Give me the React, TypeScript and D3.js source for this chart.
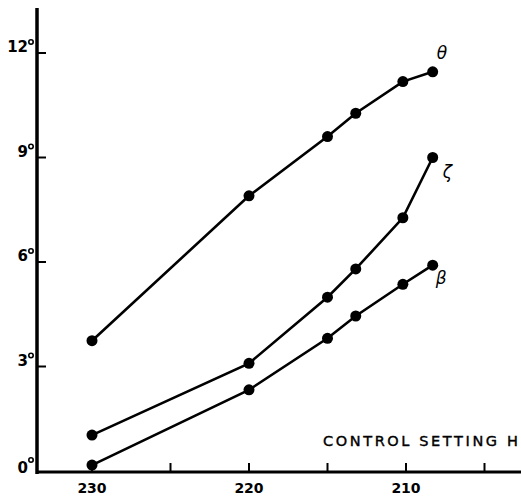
import React from "react";
import * as d3 from "d3";

const W = 521;
const H = 497;

// control setting (x) for each measured point
const settings = [230, 220, 215, 213.2, 210.2, 208.3];
// angles in degrees
const theta = [3.74, 7.9, 9.6, 10.27, 11.18, 11.46];
const zeta = [1.03, 3.09, 4.99, 5.8, 7.27, 9.0];
const beta = [0.17, 2.33, 3.81, 4.45, 5.36, 5.91];

const seriesNames = ["θ", "ζ", "β"];
const seriesValues = [theta, zeta, beta];

const xTicks = [230, 225, 220, 215, 210, 205];
const xTickLabels = ["230", "", "220", "", "210", ""];
const yTicks = [0, 3, 6, 9, 12];

const axisX = 37;
const axisY = 472;

const x = d3.scaleLinear().domain([230, 210]).range([92, 406]);
const y = d3.scaleLinear().domain([0, 12]).range([471, 53]);

const font = "'DejaVu Sans', sans-serif";

export default function App() {
  const line = d3
    .line<number>()
    .x((_, i) => x(settings[i]))
    .y((d) => y(d));

  // label placement, relative to the last point of each curve
  const labelOffsets = [
    [4, -13],
    [10, 20],
    [3, 19],
  ];

  return (
    <svg
      width={W}
      height={H}
      style={{ position: "absolute", left: 0, top: 0, background: "#fff" }}
    >
      {/* axes */}
      <line x1={axisX} x2={axisX} y1={8} y2={axisY + 2} stroke="#000" strokeWidth={3.5} />
      <line x1={axisX - 1} x2={W} y1={axisY} y2={axisY} stroke="#000" strokeWidth={3} />

      {yTicks.map((t) => (
        <g key={"y" + t}>
          {t > 0 && (
            <line x1={axisX} x2={axisX + 9} y1={y(t)} y2={y(t)} stroke="#000" strokeWidth={2} />
          )}
          <text
            x={axisX - 9}
            y={y(t) + (t === 0 ? 2 : -1)}
            textAnchor="end"
            fontFamily={font}
            fontSize={15}
            fontWeight="bold"
          >
            {t}
          </text>
          <circle cx={axisX - 6} cy={y(t) - 11} r={2.2} fill="none" stroke="#000" strokeWidth={1.6} />
        </g>
      ))}

      {xTicks.map((t, i) => (
        <g key={"x" + t}>
          <line x1={x(t)} x2={x(t)} y1={axisY} y2={axisY - 9} stroke="#000" strokeWidth={2} />
          {xTickLabels[i] && (
            <text
              x={x(t)}
              y={493}
              textAnchor="middle"
              fontFamily={font}
              fontSize={14}
              fontWeight="bold"
            >
              {xTickLabels[i]}
            </text>
          )}
        </g>
      ))}

      <text
        x={323}
        y={446}
        fontFamily={font}
        fontSize={14.5}
        letterSpacing={1.2}
        textLength={196}
        stroke="#000"
        strokeWidth={0.4}
      >
        CONTROL SETTING H
      </text>

      {seriesValues.map((vals, si) => (
        <g key={seriesNames[si]}>
          <path d={line(vals) || ""} fill="none" stroke="#000" strokeWidth={2.6} />
          {vals.map((v, i) => (
            <circle key={i} cx={x(settings[i])} cy={y(v)} r={5.5} fill="#000" />
          ))}
          <text
            x={x(settings[settings.length - 1]) + labelOffsets[si][0]}
            y={y(vals[vals.length - 1]) + labelOffsets[si][1]}
            fontFamily={font}
            fontSize={17}
            fontStyle="italic"
          >
            {seriesNames[si]}
          </text>
        </g>
      ))}
    </svg>
  );
}
